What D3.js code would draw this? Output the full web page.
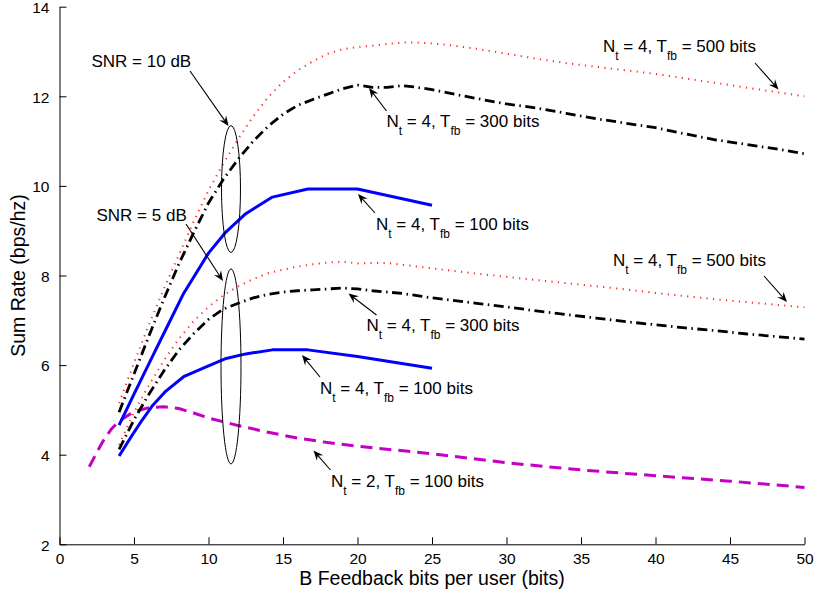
<!DOCTYPE html>
<html>
<head>
<meta charset="utf-8">
<script src="https://cdn.jsdelivr.net/npm/d3@7"></script>
<style>
  html, body { margin: 0; padding: 0; background: #fff; }
  svg text { font-family: "Liberation Sans", Arial, Helvetica, sans-serif; fill: #000; }
</style>
</head>
<body>
<svg id="chart" width="817" height="596"></svg>
<script>
// ---------- data ----------
const xTicks = [0, 5, 10, 15, 20, 25, 30, 35, 40, 45, 50];
const yTicks = [2, 4, 6, 8, 10, 12, 14];

const blueX = [4, 5, 5.56, 6.25, 7.14, 8.33, 10, 11.11, 12.5, 14.29, 16.67, 20, 25];
const blue10Y = [4.66, 5.35, 5.73, 6.2, 6.8, 7.6, 8.5, 8.95, 9.38, 9.75, 9.93, 9.93, 9.57];
const blue5Y  = [3.97, 4.5, 4.78, 5.1, 5.42, 5.74, 5.98, 6.14, 6.25, 6.34, 6.34, 6.19, 5.93];

const longX = [4, 5, 6, 7, 8, 9, 10, 11, 12, 13, 14, 15, 16, 17, 18, 19, 20, 21, 22, 23, 24, 25, 26,
               28, 30, 32, 34, 36, 38, 40, 42, 44, 46, 48, 50];
const red10Y = [5.15, 6.05, 6.9, 7.7, 8.45, 9.2, 9.9, 10.5, 11.05, 11.55, 11.98, 12.32, 12.58, 12.78, 12.95,
                13.05, 13.1, 13.13, 13.17, 13.2, 13.2, 13.18, 13.15, 13.06, 12.95, 12.84, 12.74, 12.66,
                12.58, 12.5, 12.4, 12.3, 12.2, 12.1, 12.0];
const black10Y = [4.95, 5.8, 6.65, 7.47, 8.25, 8.95, 9.62, 10.15, 10.6, 11.0, 11.33, 11.6, 11.8, 11.93, 12.05,
                  12.17, 12.25, 12.2, 12.2, 12.24, 12.2, 12.15, 12.08, 11.95, 11.83, 11.74, 11.62, 11.5,
                  11.4, 11.3, 11.16, 11.03, 10.93, 10.83, 10.72];
const red5Y = [4.22, 4.95, 5.55, 6.1, 6.58, 6.98, 7.3, 7.56, 7.76, 7.92, 8.05, 8.13, 8.2, 8.25, 8.29,
               8.31, 8.27, 8.28, 8.28, 8.24, 8.2, 8.16, 8.12, 8.04, 7.97, 7.9, 7.83, 7.76, 7.69, 7.61,
               7.54, 7.47, 7.41, 7.35, 7.29];
const black5Y = [4.12, 4.78, 5.35, 5.87, 6.33, 6.7, 7.02, 7.25, 7.38, 7.5, 7.58, 7.63, 7.66, 7.68, 7.7,
                 7.72, 7.7, 7.66, 7.63, 7.6, 7.55, 7.5, 7.46, 7.38, 7.3, 7.21, 7.13, 7.05, 6.97, 6.9,
                 6.83, 6.77, 6.7, 6.64, 6.58];

const magentaX = [2, 2.5, 3, 3.5, 4, 5, 6, 7, 8, 9, 10, 12, 14, 16, 18, 20, 25, 30, 35, 40, 45, 50];
const magentaY = [3.73, 4.05, 4.35, 4.58, 4.75, 4.96, 5.05, 5.07, 5.03, 4.93, 4.82, 4.65, 4.5, 4.37, 4.27,
                  4.19, 4.02, 3.82, 3.66, 3.53, 3.41, 3.27];

const xLabel = "B Feedback bits per user (bits)";
const yLabel = "Sum Rate (bps/hz)";

// ---------- chart ----------
const W = 817, H = 596;
const margin = { left: 59.5, top: 6.7, right: 12.5, bottom: 51.7 };
const svg = d3.select("#chart");

const x = d3.scaleLinear().domain([0, 50]).range([margin.left, W - margin.right]);
const y = d3.scaleLinear().domain([2, 14]).range([H - margin.bottom, margin.top]);

const FONT = '"Liberation Sans", Arial, Helvetica, sans-serif';

// axes
const xAxis = d3.axisBottom(x).tickValues(xTicks).tickSize(-7).tickSizeOuter(0).tickPadding(9);
const yAxis = d3.axisLeft(y).tickValues(yTicks).tickSize(-7).tickSizeOuter(0).tickPadding(10);

const gx = svg.append("g").attr("transform", `translate(0,${y(2)})`).call(xAxis);
const gy = svg.append("g").attr("transform", `translate(${x(0)},0)`).call(yAxis);
[gx, gy].forEach(g => {
  g.select(".domain").attr("stroke", "#000").attr("stroke-width", 1);
  g.selectAll(".tick line").attr("stroke", "#000").attr("stroke-width", 1);
  g.selectAll(".tick text").attr("font-size", 15.5).attr("font-family", FONT).attr("fill", "#000");
});
gy.selectAll(".tick text").attr("dy", "0.38em");

// series
const series = [
  { xs: magentaX, ys: magentaY, color: "#c400c4", width: 3, dash: "12,7" },
  { xs: longX, ys: red10Y, color: "#ff2a2a", width: 2, dash: "1.2,5.3" },
  { xs: longX, ys: red5Y, color: "#ff2a2a", width: 2, dash: "1.2,5.3" },
  { xs: longX, ys: black10Y, color: "#000", width: 2.8, dash: "10,4.5,1.5,4.5" },
  { xs: longX, ys: black5Y, color: "#000", width: 2.8, dash: "10,4.5,1.5,4.5" },
  { xs: blueX, ys: blue10Y, color: "#0000ff", width: 3, dash: null },
  { xs: blueX, ys: blue5Y, color: "#0000ff", width: 3, dash: null }
];
const line = d3.line().x(d => x(d[0])).y(d => y(d[1]));
series.forEach(s => {
  const pts = s.xs.map((v, i) => [v, s.ys[i]]);
  svg.append("path")
    .attr("d", line(pts))
    .attr("fill", "none")
    .attr("stroke", s.color)
    .attr("stroke-width", s.width)
    .attr("stroke-linejoin", "round")
    .attr("stroke-dasharray", s.dash);
});

// ellipses (in data coordinates)
const ellipses = [
  { cx: 11.51, cy: 9.93, rxPx: 9.5, ryPx: 63.5 },
  { cx: 11.51, cy: 5.97, rxPx: 10, ryPx: 97.5 }
];
ellipses.forEach(e => {
  svg.append("ellipse")
    .attr("cx", x(e.cx)).attr("cy", y(e.cy))
    .attr("rx", e.rxPx).attr("ry", e.ryPx)
    .attr("fill", "none").attr("stroke", "#000").attr("stroke-width", 1);
});

// arrows: tail (data) -> tip (data)
function arrow(x1, y1, x2, y2) {
  const X1 = x(x1), Y1 = y(y1), X2 = x(x2), Y2 = y(y2);
  const ang = Math.atan2(Y2 - Y1, X2 - X1);
  const L = 10, Wd = 4.2, notch = 6.5;
  const ca = Math.cos(ang), sa = Math.sin(ang);
  const bx = X2 - L * ca, by = Y2 - L * sa;
  const nx = X2 - notch * ca, ny = Y2 - notch * sa;
  svg.append("line").attr("x1", X1).attr("y1", Y1).attr("x2", nx).attr("y2", ny)
    .attr("stroke", "#000").attr("stroke-width", 1.1);
  const p = [[X2, Y2], [bx - Wd * sa, by + Wd * ca], [nx, ny], [bx + Wd * sa, by - Wd * ca]];
  svg.append("path").attr("d", "M" + p.map(q => q.join(",")).join("L") + "Z").attr("fill", "#000");
}
function px2d(px, py) { return [x.invert(px), y.invert(py)]; }

// annotations
function plainText(px, py, txt) {
  svg.append("text").attr("x", px).attr("y", py).attr("font-size", 17).text(txt);
}
function ntText(px, py, nt, tfb) {
  const t = svg.append("text").attr("x", px).attr("y", py).attr("font-size", 17);
  t.append("tspan").text("N");
  t.append("tspan").attr("font-size", 12).attr("dy", 8).text("t");
  t.append("tspan").attr("dy", -8).text(` = ${nt}, T`);
  t.append("tspan").attr("font-size", 12).attr("dy", 8).text("fb");
  t.append("tspan").attr("dy", -8).text(` = ${tfb} bits`);
}
function arrowPx(a, b, c, d) { const p = px2d(a, b), q = px2d(c, d); arrow(p[0], p[1], q[0], q[1]); }

plainText(91.5, 67, "SNR = 10 dB");
arrowPx(190, 71, 228.5, 126);
plainText(96.5, 220.5, "SNR = 5 dB");
arrowPx(186, 224, 223, 281);

ntText(603, 51.5, 4, 500);  arrowPx(755, 63, 778.5, 89.5);
ntText(386.5, 126.5, 4, 300); arrowPx(386.5, 111, 369, 88);
ntText(376, 230, 4, 100);   arrowPx(375, 213, 358, 194);
ntText(613, 265.5, 4, 500); arrowPx(764, 276, 787, 302);
ntText(366.5, 330.5, 4, 300); arrowPx(376.5, 315, 348.5, 293.5);
ntText(320, 393.5, 4, 100); arrowPx(320, 377, 302, 355);
ntText(331, 487, 2, 100);   arrowPx(330.5, 470, 313.5, 450.5);

// axis labels
svg.append("text").attr("x", (x(0) + x(50)) / 2).attr("y", 585)
  .attr("text-anchor", "middle").attr("font-size", 19.5).text(xLabel);
svg.append("text")
  .attr("transform", `translate(25,${(y(2) + y(14)) / 2}) rotate(-90)`)
  .attr("text-anchor", "middle").attr("font-size", 19.5).text(yLabel);
</script>
</body>
</html>
